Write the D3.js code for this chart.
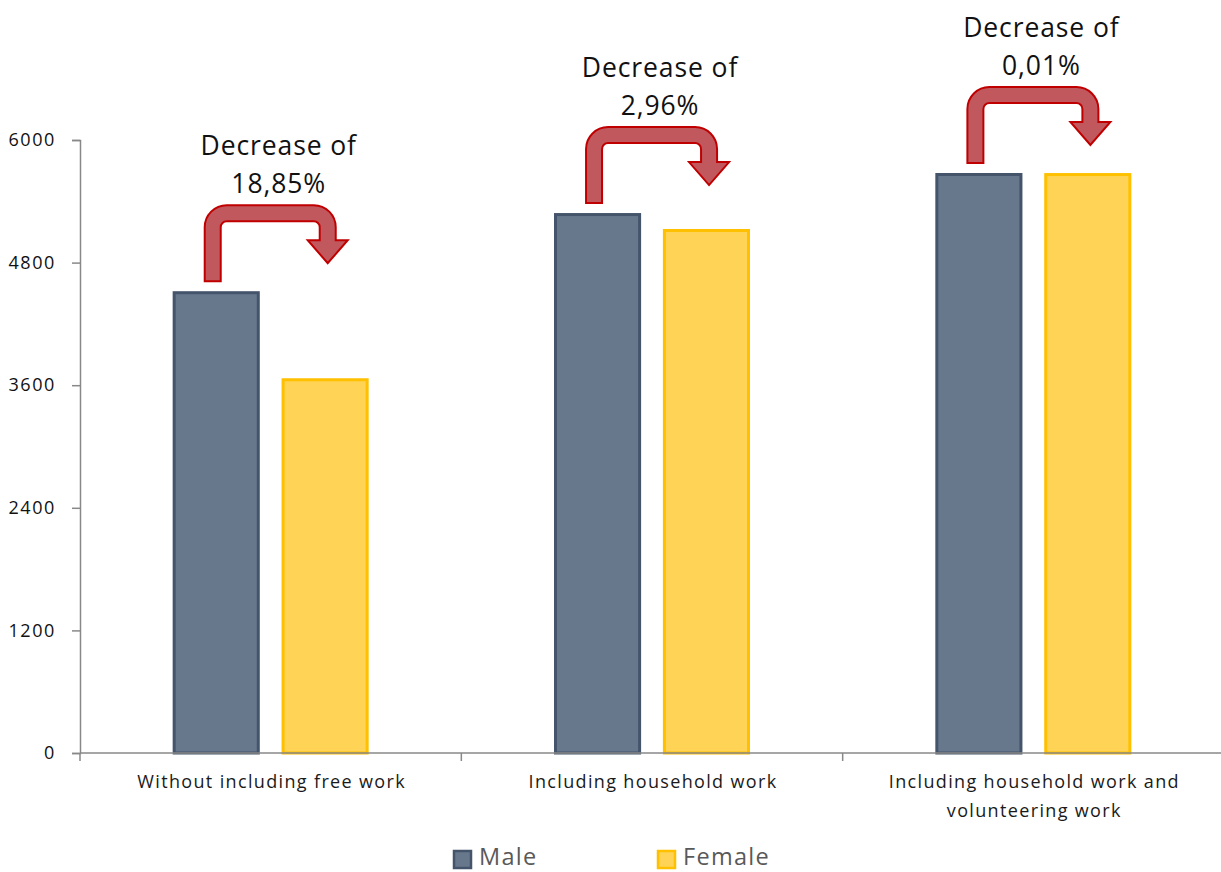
<!DOCTYPE html>
<html>
<head>
<meta charset="utf-8">
<script src="https://cdn.jsdelivr.net/npm/d3@7"></script>
<style>
  html, body { margin: 0; padding: 0; background: #fff; }
  svg { display: block; font-family: "Open Sans", Lato, sans-serif; }
</style>
</head>
<body>
<svg id="chart" width="1221" height="872"></svg>
<script>
// Income by gender under three accounting scopes
const categories = [
  ["Without including free work"],
  ["Including household work"],
  ["Including household work and", "volunteering work"]
];
const series = ["Male", "Female"];
const maleValues = [4520, 5285, 5677];
const femaleValues = [3668, 5129, 5676.5];
const decreaseLabels = ["18,85%", "2,96%", "0,01%"];
const yTicks = [0, 1200, 2400, 3600, 4800, 6000];

const colors = {
  Male: { fill: "#67788d", stroke: "#44546a" },
  Female: { fill: "#ffd355", stroke: "#ffc000" }
};

const svg = d3.select("#chart");
const plotLeft = 80, plotRight = 1224, plotTop = 140, plotBottom = 753;

const catKeys = categories.map(c => c.join(" "));
const x0 = d3.scaleBand().domain(catKeys).range([plotLeft, plotRight]).padding(0);
const y = d3.scaleLinear().domain([0, 6000]).range([plotBottom, plotTop]);

const rows = catKeys.map((k, i) => ({
  key: k, lines: categories[i],
  values: { Male: maleValues[i], Female: femaleValues[i] },
  label: decreaseLabels[i]
}));

// bars
rows.forEach(r => {
  const c = x0(r.key) + x0.bandwidth() / 2;
  const x1 = d3.scaleBand().domain(series).range([c - 98, c + 98]).paddingInner(0.2);
  r.x1 = x1;
  svg.append("g").selectAll("rect").data(series).join("rect")
    .attr("x", s => x1(s) + 1.5)
    .attr("y", s => y(r.values[s]) + 1.5)
    .attr("width", x1.bandwidth() - 3)
    .attr("height", s => plotBottom - y(r.values[s]) - 1.5)
    .attr("fill", s => colors[s].fill)
    .attr("stroke", s => colors[s].stroke)
    .attr("stroke-width", 3);
});

// y axis
const yAxis = svg.append("g").attr("transform", `translate(${plotLeft},0)`)
  .call(d3.axisLeft(y).tickValues(yTicks).tickSize(8).tickPadding(16).tickFormat(d3.format("d")));
yAxis.select(".domain").attr("stroke", "#888").attr("stroke-width", 1.5);
yAxis.selectAll(".tick line").attr("stroke", "#888").attr("stroke-width", 1.5);
yAxis.selectAll("text").attr("font-size", 18).attr("fill", "#111")
  .attr("letter-spacing", 1.6)
  .attr("font-family", "'Open Sans', sans-serif");

// x axis with ticks at category boundaries
const xAxisG = svg.append("g");
xAxisG.append("line").attr("x1", plotLeft).attr("x2", plotRight)
  .attr("y1", plotBottom).attr("y2", plotBottom)
  .attr("stroke", "#888").attr("stroke-width", 1.5);
const boundaries = catKeys.map(k => x0(k)).concat([plotRight]);
xAxisG.selectAll(".bt").data(boundaries).join("line")
  .attr("x1", d => d).attr("x2", d => d).attr("y1", plotBottom).attr("y2", plotBottom + 8)
  .attr("stroke", "#888").attr("stroke-width", 1.5);

// category labels
rows.forEach(r => {
  const c = x0(r.key) + x0.bandwidth() / 2;
  const t = svg.append("text").attr("text-anchor", "middle")
    .attr("font-size", 18).attr("letter-spacing", 1.35).attr("fill", "#1a1a1a");
  r.lines.forEach((ln, i) => {
    t.append("tspan").attr("x", c + 1).attr("y", 788 + i * 29).text(ln);
  });
});

// bent arrows from male bar to female bar, with the decrease label
function bentArrow(stemC, legC, T, B) {
  const t = 16, ro = 22, ri = 6, hw = 20, hb = 35, tip = 58;
  const L = stemC - t / 2, R = legC + t / 2;
  return [
    `M${L},${B}`,
    `L${L},${T + ro}`,
    `A${ro},${ro} 0 0 1 ${L + ro},${T}`,
    `L${R - ro},${T}`,
    `A${ro},${ro} 0 0 1 ${R},${T + ro}`,
    `L${R},${T + hb}`,
    `L${legC + hw},${T + hb}`,
    `L${legC},${T + tip}`,
    `L${legC - hw},${T + hb}`,
    `L${R - t},${T + hb}`,
    `L${R - t},${T + t + ri}`,
    `A${ri},${ri} 0 0 0 ${R - t - ri},${T + t}`,
    `L${L + t + ri},${T + t}`,
    `A${ri},${ri} 0 0 0 ${L + t},${T + t + ri}`,
    `L${L + t},${B}`,
    "Z"
  ].join(" ");
}

rows.forEach(r => {
  const stemC = r.x1("Male") + r.x1.bandwidth() / 2 - 3.5;
  const legC = stemC + 115;
  const B = y(r.values.Male) - 10;
  const T = B - 76;
  svg.append("path").attr("d", bentArrow(stemC, legC, T, B))
    .attr("fill", "#c0585e").attr("stroke", "#c00000").attr("stroke-width", 2)
    .attr("stroke-linejoin", "miter");
  const lx = stemC + 66;
  const txt = svg.append("text").attr("text-anchor", "middle")
    .attr("font-size", 26.5).attr("letter-spacing", 0.9).attr("fill", "#111");
  txt.append("tspan").attr("x", lx).attr("y", T - 50).text("Decrease of");
  txt.append("tspan").attr("x", lx).attr("y", T - 12).text(r.label);
});

// legend
const legend = svg.append("g");
const legendItems = [{ s: "Male", x: 454 }, { s: "Female", x: 658 }];
legendItems.forEach(d => {
  legend.append("rect").attr("x", d.x).attr("y", 851).attr("width", 17).attr("height", 17)
    .attr("fill", colors[d.s].fill).attr("stroke", colors[d.s].stroke).attr("stroke-width", 2.5);
  legend.append("text").attr("x", d.x + 25).attr("y", 865).attr("font-size", 23.5)
    .attr("letter-spacing", 1.3).attr("fill", "#595959").text(d.s);
});
</script>
</body>
</html>
